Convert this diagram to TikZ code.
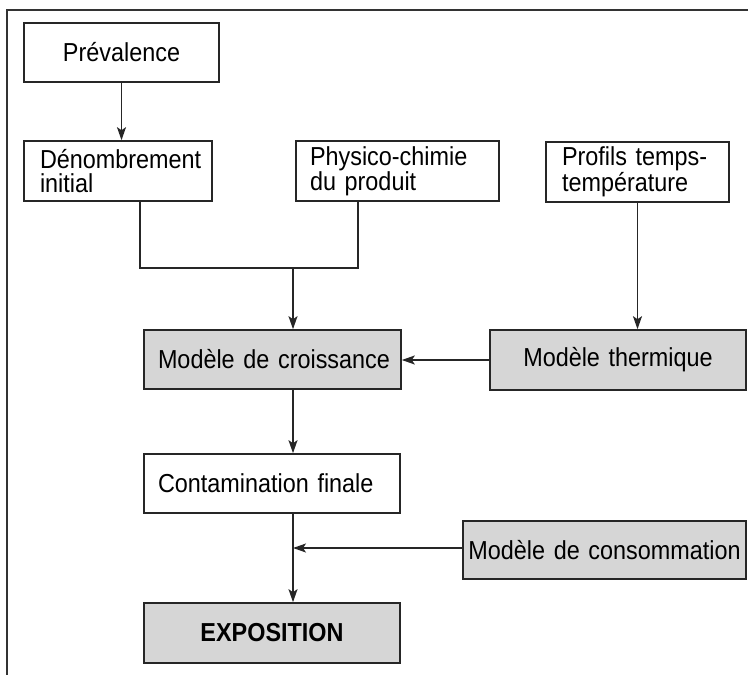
\documentclass[tikz,border=0pt]{standalone}
\usepackage{fontspec}
\setmainfont{Liberation Sans}[FakeStretch=0.9]
\usetikzlibrary{arrows.meta}
\begin{document}
\begin{tikzpicture}[x=1pt,y=-1pt,
  every node/.style={font=\fontsize{26}{23.5}\selectfont},
  box/.style={draw=black!85, line width=1.6pt, fill=white, rectangle,
    inner ysep=0pt, inner xsep=#1, minimum height=59pt},
  box/.default=15pt,
  model/.style={fill=black!16},
  link/.style={draw=black!85, line width=1.5pt},
  flow/.style={link, -{Stealth[length=13pt,width=9pt,inset=3pt]}},
  frameline/.style={draw=black!80, line width=2pt}]
  \useasboundingbox (0,0) rectangle (748,675);
  \draw[frameline] (7,675) -- (7,10) -- (748,10);

  % boxes
  \node[box=0pt, text width=195pt, align=center] (prev) at (121.5,52.5) {Prévalence};
  \node[box=16pt, text width=156pt, align=left, minimum height=60pt] (denom) at (118,171) {Dénombrement\\initial};
  \node[box=14pt, text width=175pt, align=left, minimum height=60pt] (phys) at (397.5,171) {Physico-chimie\\du produit};
  \node[box=16pt, text width=151pt, align=left, minimum height=60pt] (prof) at (637.5,172) {Profils temps-\\température};
  \node[box=14pt, model, text width=229pt, align=left] (croiss) at (272.5,359.5) {\mbox{Modèle de croissance}};
  \node[box=0pt, model, text width=256pt, align=center, minimum height=60pt] (therm) at (618,360) {Modèle thermique};
  \node[box=14pt, text width=228pt, align=left] (contam) at (272,483.5) {\mbox{Contamination finale}};
  \node[box=0pt, model, text width=283pt, align=center, minimum height=58pt] (consom) at (604.5,550) {Modèle de consommation};
  \node[box=0pt, model, text width=256pt, align=center, minimum height=60pt] (expo) at (272,633) {\bfseries EXPOSITION};

  % junction points
  \coordinate (join) at (293,268);
  \coordinate (spine) at (293,548);

  % connectors
  \draw[flow] (prev.south) -- (prev.south |- denom.north);
  \draw[link] (denom.south -| 140,0) |- (join) -| (phys.south -| 358,0);
  \draw[flow] (join) -- (join |- croiss.north);
  \draw[flow] (prof.south) -- (prof.south |- therm.north);
  \draw[flow] (therm.west) -- (croiss.east |- therm.west);
  \draw[flow] (croiss.south -| join) -- (contam.north -| join);
  \draw[flow] (contam.south -| join) -- (expo.north -| join);
  \draw[flow] (consom.west |- spine) -- (spine);
\end{tikzpicture}
\end{document}
